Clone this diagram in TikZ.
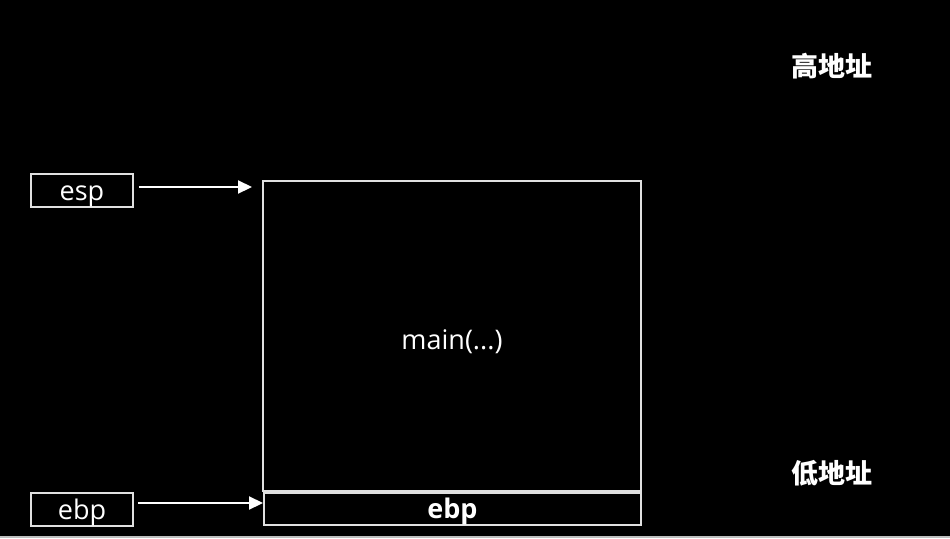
\documentclass[tikz,border=0pt]{standalone}
\usepackage{fontspec}
\setmainfont{Open Sans}
\newfontfamily\cjk{Noto Sans CJK SC}
\usetikzlibrary{arrows.meta}
\tikzset{regbox/.style = {draw=black!12, line width=1.5, minimum width=102, minimum height=33, inner sep=0, text=white, text height=21, text depth=2}}
\tikzset{ptr/.style = {draw=white, line width=2.2, -{Triangle[length=14, width=13]}}}

\begin{document}
\begin{tikzpicture}[x=1pt, y=-1pt, every node/.style={font=\fontsize{27}{31}\selectfont}]
      \fill[black] (0,0) rectangle (950,538);
      \useasboundingbox (0,0) rectangle (950,538);
      \draw[black!25, line width=1.5] (0,537) -- (950,537);
      \node[regbox] (esp) at (82,190.5) {esp};
      \node[regbox] (ebp) at (82,509.5) {ebp};
      \node[draw=black!12, line width=1.5, minimum width=378, minimum height=310, inner sep=0, text=white, text height=28, text depth=2] (main) at (452,336) {main(...)};
      \node[draw=black!12, line width=1.5, minimum width=377, minimum height=32, inner sep=0, text=white, text height=20, text depth=2, font=\fontsize{27}{31}\selectfont\bfseries] (frame) at (452.5,509) {ebp};
      \coordinate (esptip) at (252,187);
      \coordinate (ebptip) at (263,503);
      \draw[ptr] (esp.east |- esptip) ++(5,0) -- (esptip);
      \draw[ptr] (ebp.east |- ebptip) ++(4,0) -- (ebptip);
      \node[text=white, font=\fontsize{27}{30}\selectfont\cjk\bfseries] (high) at (832,66) {高地址};
      \node[text=white, font=\fontsize{27}{30}\selectfont\cjk\bfseries] (low) at (832,473) {低地址};
\end{tikzpicture}
\end{document}
